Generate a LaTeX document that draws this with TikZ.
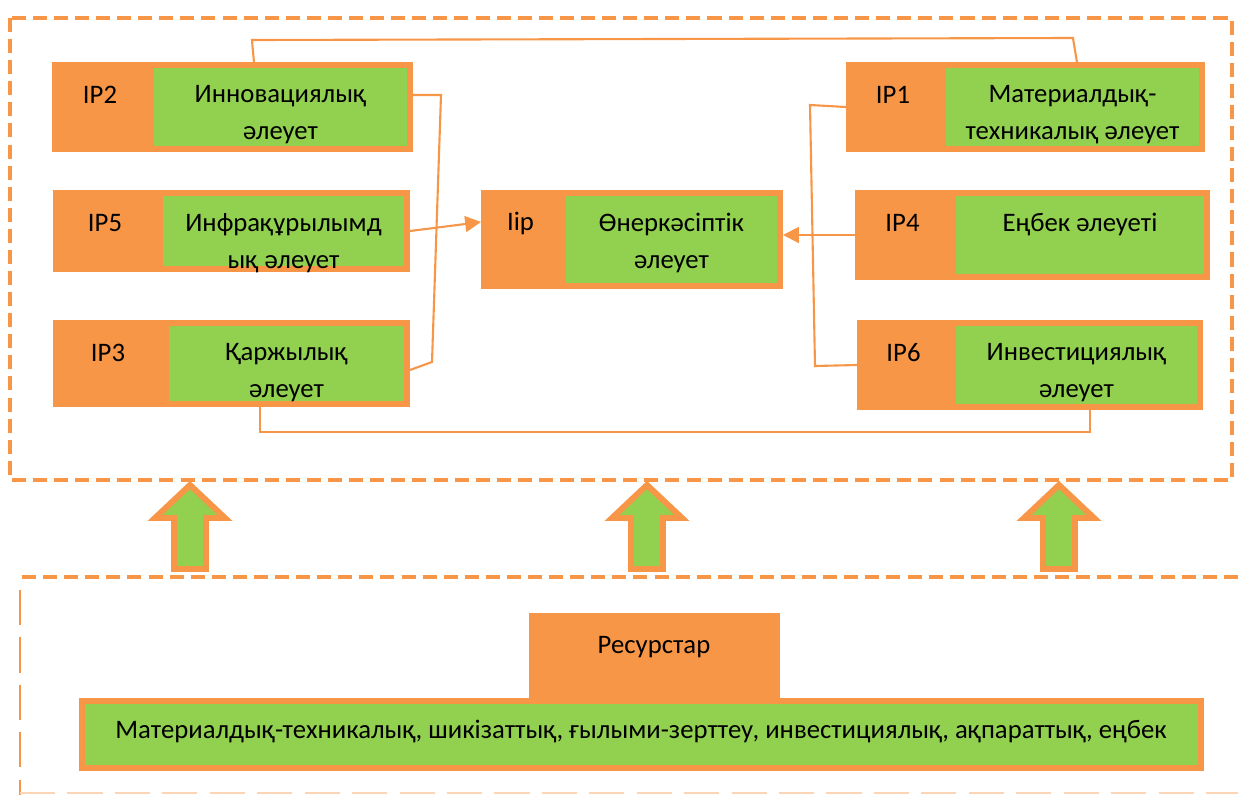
\documentclass[tikz,border=0pt]{standalone}
\usepackage{fontspec}
\setmainfont{Carlito}
\usetikzlibrary{arrows.meta}
\definecolor{ipor}{HTML}{F79646}
\definecolor{ipgr}{HTML}{92D050}

\begin{document}
\begin{tikzpicture}[
            x=0.02cm, y=-0.02cm,
            lblbox/.style={
                fill=ipor,
                inner sep=0,
                outer sep=0,
                anchor=north west
            },
            txtbox/.style={
                fill=ipgr,
                draw=ipor,
                line width=3.4pt,
                inner sep=0,
                outer sep=0,
                anchor=north west
            },
            lbl/.style={
                font=\fontsize{15.2}{21}\selectfont,
                inner sep=0
            },
            txt/.style={
                font=\fontsize{15.2}{21}\selectfont,
                align=center,
                inner sep=0,
                anchor=north
            },
            link/.style={draw=ipor, line width=1.2pt},
            pointer/.style={-{Triangle[length=9pt,width=9pt]}},
            frame/.style={draw=ipor, line width=2.8pt, dash pattern=on 8pt off 4pt},
            uparrow/.style={fill=ipgr, draw=ipor, line width=3.4pt}
        ]
            \useasboundingbox (0,0) rectangle (1238,795);
            \draw[frame] (10,18) rectangle (1232,480);
            \draw[frame] (22,577) -- (1238,577);
            \draw[draw=ipor, line width=1.2pt, dash pattern=on 20pt off 7pt] (20,590) -- (20,795);
            \draw[draw=ipor!40, line width=0.8pt, dash pattern=on 20pt off 7pt] (20,793) -- (1238,793);

            \foreach \nm/\lb/\txtt/\xa/\xb/\xc/\ya/\yb in {
                ip2/IP2/{Инновациялық\\әлеует}/52/148/413/62/152,
                ip5/IP5/{Инфрақұрылымд\\ық әлеует}/53/157/410/190/272,
                ip3/IP3/{Қаржылық\\әлеует}/53/163/410/320/407,
                iip/Iip/{Өнеркәсіптік\\әлеует}/481/560/783/190/289,
                ip1/IP1/{Материалдық-\\техникалық әлеует}/846/940/1205/62/152,
                ip4/IP4/{Еңбек әлеуеті}/855/950/1210/190/280,
                ip6/IP6/{Инвестициялық\\әлеует}/857/950/1203/320/410
            } {
                \node[lblbox, minimum width={(\xc-\xa)*0.02cm}, minimum height={(\yb-\ya)*0.02cm}] (\nm) at (\xa,\ya) {};
                \node[txtbox, minimum width={(\xc-\xb-6)*0.02cm}, minimum height={(\yb-\ya-6)*0.02cm}] (\nm-t) at (\xb+3,\ya+3) {};
                \node[lbl] (\nm-l) at ({(\xa+\xb)/2},\ya+33) {\lb};
                \node[txt] (\nm-n) at ({(\xb+\xc)/2},\ya+23) {\txtt};
            }

            \draw[link] ([xshift=4.04cm]ip2.north west) -- ++(-2,-22) -- ++(821,-2) -- ([xshift=4.62cm]ip1.north west);
            \draw[link] ([yshift=-0.66cm]ip2.north east) -- ++(28,0) -- ++(-9,267) -- ([yshift=-0.13cm]ip3.east);
            \draw[link, pointer] (ip5.east) -- ([yshift=0.35cm]iip.west);
            \draw[link] (ip1.west) -- ++(-36,-2) -- ++(5,261) -- (ip6.west);
            \draw[link, pointer] (ip4.west) -- (ip4.west -| iip.east);
            \draw[link] ([xshift=4.14cm]ip3.south west) -- ++(0,25) -| ([xshift=4.66cm]ip6.south west);

            \foreach \x in {190,647,1059} {
                \draw[uparrow] (\x-16,569) -- (\x-16,518) -- (\x-35,518) -- (\x,485) -- (\x+35,518) -- (\x+16,518) -- (\x+16,569) -- cycle;
            }

            \node[lblbox, minimum width=5.02cm, minimum height=1.8cm] (res) at (529,613) {};
            \node[txtbox, minimum width=22.38cm, minimum height=1.34cm] (resall) at (82,701) {};
            \node[lbl] (res-l) at (654,647) {Ресурстар};
            \node[lbl] (resall-l) at (641,731) {Материалдық-техникалық, шикізаттық, ғылыми-зерттеу, инвестициялық, ақпараттық, еңбек};
        \end{tikzpicture}
\end{document}
